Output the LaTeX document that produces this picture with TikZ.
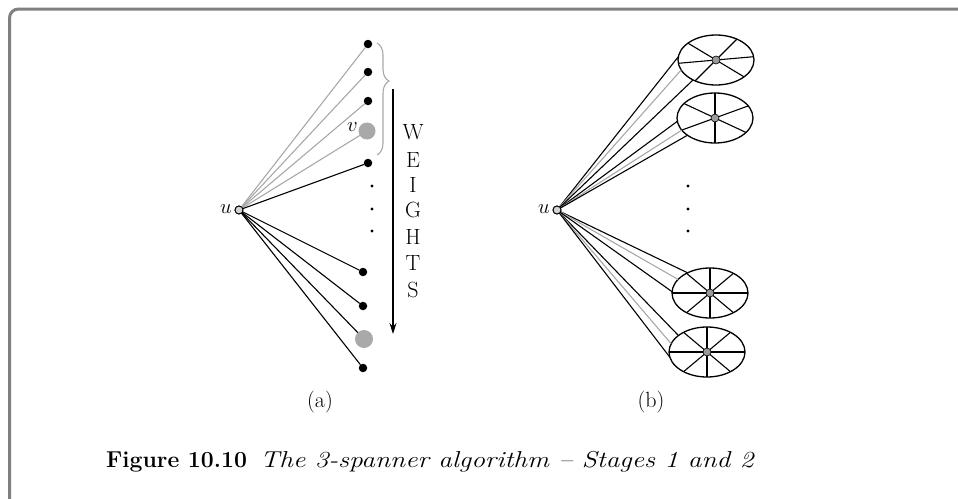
\documentclass[tikz,border=0pt]{standalone}
\usetikzlibrary{shapes.geometric,arrows.meta,decorations.pathreplacing}
\definecolor{framegray}{HTML}{808080}
\definecolor{edgegray}{HTML}{A8A8A8}
\definecolor{dotgray}{HTML}{A9A9A9}
\definecolor{ugray}{HTML}{D4D4D4}
\definecolor{cgray}{HTML}{9A9A9A}
\begin{document}
\begin{tikzpicture}[x=1pt,y=-1pt,
  bdot/.style={circle,fill=black,inner sep=0pt,outer sep=0pt,minimum size=8.5pt},
  gdot/.style={circle,fill=dotgray,inner sep=0pt,outer sep=0pt,minimum size=17pt},
  sdot/.style={circle,fill=black,inner sep=0pt,minimum size=3.2pt},
  unode/.style={circle,draw=black,fill=ugray,line width=0.9pt,inner sep=0pt,outer sep=0pt,minimum size=8pt},
  cdot/.style={circle,draw=black,fill=cgray,line width=0.6pt,inner sep=0pt,minimum size=8pt},
  blk/.style={draw=black,line width=1.1pt},
  gry/.style={draw=edgegray,line width=1.1pt},
  oval/.style={ellipse,draw=black,fill=white,line width=1.3pt,inner sep=0pt,outer sep=0pt,minimum width=76pt,minimum height=50pt},
  spoke/.style={draw=black,line width=1.1pt},
  lbl/.style={inner sep=0pt,font=\fontsize{22}{26}\selectfont},
  wl/.style={inner sep=0pt,font=\fontsize{22}{26}\selectfont}
]
\useasboundingbox (0,0) rectangle (958,498);
% frame
\draw[framegray,line width=3pt,rounded corners=9pt] (9.5,500) -- (9.5,9) -- (960,9);

% ---------------- panel (a)
\node[unode] (ua) at (239,210) {};
\node[lbl,anchor=east] (ula) at (232,209) {$u$};
\node[bdot] (a1) at (368,44) {};
\node[bdot] (a2) at (368,72) {};
\node[bdot] (a3) at (368,101) {};
\node[gdot] (av) at (367,131) {};
\node[lbl,anchor=east] (vl) at (358,127) {$v$};
\node[bdot] (a5) at (368,163) {};
\node[sdot] (s1) at (372,186) {};
\node[sdot] (s2) at (372,209) {};
\node[sdot] (s3) at (372,231) {};
\node[bdot] (a6) at (363,272) {};
\node[bdot] (a7) at (363,306) {};
\node[gdot,minimum size=18pt] (ag) at (364,339) {};
\node[bdot] (a8) at (363,368) {};
\draw[gry] (ua) -- (a1);
\draw[gry] (ua) -- (a2);
\draw[gry] (ua) -- (a3);
\draw[gry] (ua) -- (av);
\draw[blk] (ua) -- (a5);
\draw[blk] (ua) -- (a6);
\draw[blk] (ua) -- (a7);
\draw[blk] (ua) -- (ag);
\draw[blk] (ua) -- (a8);
\node[unode] at (ua) {};
% brace
\coordinate (bt) at (377,43);
\coordinate (bb) at (377,155);
\draw[edgegray,line width=1.1pt,decorate,decoration={brace,amplitude=12pt,aspect=0.34}] (bt) -- (bb);
% arrow
\coordinate (at) at (393,89);
\coordinate (ab) at (393,334);
\draw[black,line width=1.1pt,-{Stealth[length=11pt,width=7pt]}] (at) -- (ab);
\node[wl] (w1) at (413,132) {W};
\node[wl] (w2) at (413,160) {E};
\node[wl] (w3) at (413,185) {I};
\node[wl] (w4) at (413,210) {G};
\node[wl] (w5) at (413,237) {H};
\node[wl] (w6) at (413,263) {T};
\node[wl] (w7) at (413,290) {S};
\node[lbl] (la) at (320,402) {(a)};

% ---------------- panel (b)
\node[unode] (ub) at (557,210) {};
\node[lbl,anchor=east] (ulb) at (550,209) {$u$};
\node[oval] (e1) at (716,60) {};
\node[oval] (e2) at (715,118) {};
\node[oval] (e3) at (710,293) {};
\node[oval] (e4) at (707,352) {};
\draw[blk] (ub) -- (e1.175);
\draw[gry] (ub) -- (e1.196);
\draw[blk] (ub) -- (e1.221);
\draw[blk] (ub) -- (e2.185);
\draw[gry] (ub) -- (e2.200);
\draw[blk] (ub) -- (e2.212);
\draw[blk] (ub) -- (e3.138);
\draw[gry] (ub) -- (e3.157);
\draw[blk] (ub) -- (e3.178);
\draw[blk] (ub) -- (e4.150);
\draw[gry] (ub) -- (e4.167);
\draw[blk] (ub) -- (e4.188);
\node[unode] at (ub) {};
% spokes
\draw[spoke] (e1.185) -- (e1.5);
\draw[spoke] (e1.149) -- (e1.329);
\draw[spoke] (e1.45) -- (e1.225);
\draw[spoke] (e2.90) -- (e2.270);
\draw[spoke] (e2.155) -- (e2.335);
\draw[spoke] (e2.20) -- (e2.200);
\foreach \e in {e3,e4}{
  \draw[spoke] (\e.0) -- (\e.180);
  \draw[spoke] (\e.90) -- (\e.270);
  \draw[spoke] (\e.40) -- (\e.220);
  \draw[spoke] (\e.140) -- (\e.320);
}
\node[cdot] (c1) at (e1.center) {};
\node[cdot] (c2) at (e2.center) {};
\node[cdot] (c3) at (e3.center) {};
\node[cdot] (c4) at (e4.center) {};
\node[sdot] (t1) at (688,186) {};
\node[sdot] (t2) at (688,209) {};
\node[sdot] (t3) at (688,231) {};
\node[lbl] (lb) at (651,402) {(b)};

% ---------------- caption
\node[anchor=base west,inner sep=0pt,font=\fontsize{23}{27}\selectfont\bfseries] (fig) at (106,467) {Figure 10.10};
\node[anchor=base west,inner sep=0pt,font=\fontsize{23}{27}\selectfont\itshape] (cap) at (260,467) {\scalebox{1.19}[1]{The 3-spanner algorithm -- Stages 1 and 2}};
\end{tikzpicture}
\end{document}
